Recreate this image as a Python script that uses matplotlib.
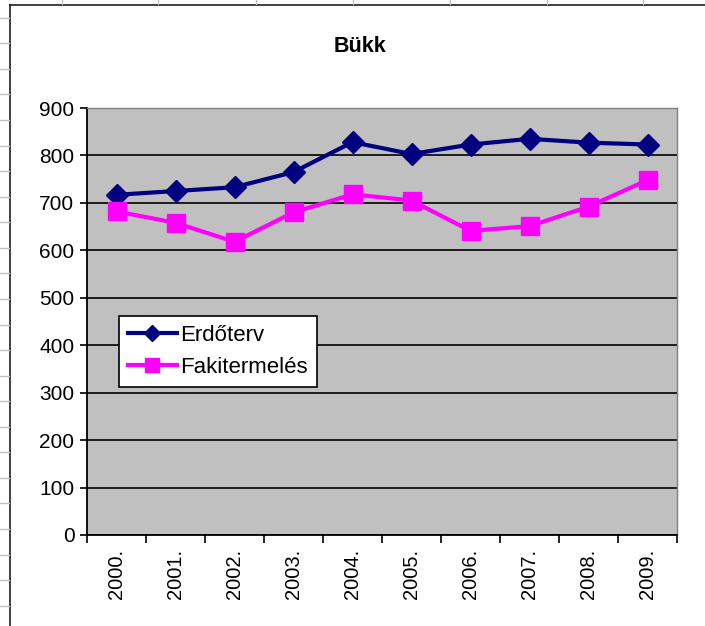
import matplotlib
matplotlib.use("Agg")
import matplotlib.pyplot as plt
from matplotlib.lines import Line2D
from matplotlib.ticker import MultipleLocator, FixedLocator

plt.rcParams['font.family'] = ['Liberation Sans', 'DejaVu Sans']

# Données
annees = ["2000.", "2001.", "2002.", "2003.", "2004.", "2005.", "2006.", "2007.", "2008.", "2009."]
erdoterv = [717, 725, 733, 765, 828, 803, 823, 835, 827, 823]
fakitermeles = [682, 658, 618, 680, 718, 705, 641, 651, 692, 748]

W, H = 705, 626
fig = plt.figure(figsize=(W / 100, H / 100), dpi=100)
fig.patch.set_facecolor("white")

def px(x, y):
    return x / W, 1 - y / H

# cadre du tableur (bord gauche / haut)
x0, y0 = px(10, 5)
fig.add_artist(Line2D([x0, x0], [0, y0], color="#202020", lw=1.2, transform=fig.transFigure))
fig.add_artist(Line2D([x0, 1], [y0, y0], color="#202020", lw=1.2, transform=fig.transFigure))
for yy in [18, 43, 69, 94, 120, 146, 171, 197, 222, 248, 273, 299, 325, 350, 376, 401, 427, 452, 478, 503, 529, 555, 580, 606]:
    a, b = px(0, yy)
    c, _ = px(9, yy)
    fig.add_artist(Line2D([a, c], [b, b], color="#c0c0c0", lw=1, transform=fig.transFigure))
for xx in [62, 158, 256, 353, 450, 547, 643]:
    a, b = px(xx, 0)
    _, d = px(xx, 4)
    fig.add_artist(Line2D([a, a], [b, d], color="#c0c0c0", lw=1, transform=fig.transFigure))

ax = fig.add_axes([87 / W, 1 - 535 / H, 590 / W, 427 / H])
ax.set_facecolor("#c0c0c0")

x = list(range(len(annees)))
ax.plot(x, erdoterv, color="#000080", lw=3, marker="D", markersize=11,
        label="Erdőterv", zorder=3)
ax.plot(x, fakitermeles, color="#ff00ff", lw=3, marker="s", markersize=12.5,
        label="Fakitermelés", zorder=3)

ax.set_xlim(-0.5, len(annees) - 0.5)
ax.set_ylim(0, 900)
ax.yaxis.set_major_locator(MultipleLocator(100))
ax.yaxis.grid(True, color="black", lw=1.2)
ax.set_axisbelow(True)

ax.xaxis.set_major_locator(FixedLocator(x))
ax.set_xticklabels(annees, rotation=90, fontsize=14.5)
ax.xaxis.set_minor_locator(FixedLocator([i - 0.5 for i in range(len(annees) + 1)]))
ax.tick_params(axis="x", which="major", length=0, pad=10)
ax.tick_params(axis="x", which="minor", length=6, width=1.2, direction="out")
ax.tick_params(axis="y", length=5, width=1.2, labelsize=15, pad=4)

for s in ["top", "right"]:
    ax.spines[s].set_color("#808080")
    ax.spines[s].set_linewidth(1)
for s in ["left", "bottom"]:
    ax.spines[s].set_color("black")
    ax.spines[s].set_linewidth(1.3)

fig.text(360 / W, 1 - 46 / H, "Bükk", ha="center", va="center",
         fontsize=15.5, fontweight="bold")

leg = ax.legend(loc="upper left", bbox_to_anchor=((119 - 87) / 590, (535 - 316) / 427),
                borderaxespad=0, fancybox=False, framealpha=1, edgecolor="black",
                fontsize=16, handlelength=2.2, handletextpad=0.15,
                labelspacing=0.5, borderpad=0.4, markerscale=0.75)
leg.get_frame().set_linewidth(1.2)

fig.savefig("out.png", dpi=100)
